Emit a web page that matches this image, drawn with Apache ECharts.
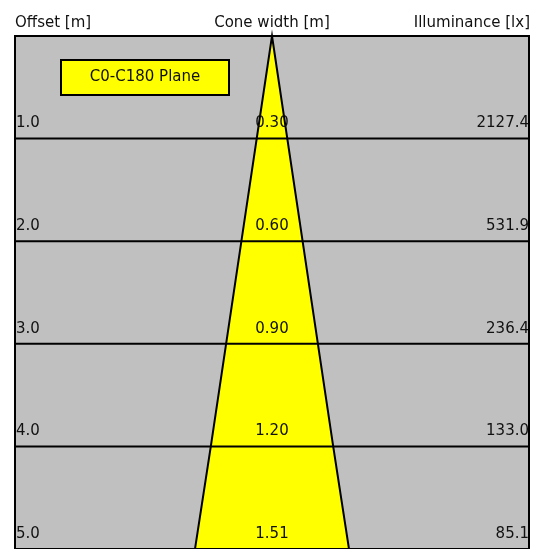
<!DOCTYPE html>
<html>
<head>
<meta charset="utf-8">
<script src="https://cdn.jsdelivr.net/npm/echarts@6/dist/echarts.min.js"></script>
<style>
  html, body { margin: 0; padding: 0; background: #fff; }
  #chart { width: 535px; height: 549px; }
</style>
</head>
<body>
<div id="chart"></div>
<script>
// values
const offsets = [1.0, 2.0, 3.0, 4.0, 5.0];          // m
const coneWidths = [0.30, 0.60, 0.90, 1.20, 1.51];   // m
const illuminance = [2127.4, 531.9, 236.4, 133.0, 85.1]; // lx
const planeName = "C0-C180 Plane";
const headers = ["Offset [m]", "Cone width [m]", "Illuminance [lx]"];

const FONT = "DejaVu Sans";
const chart = echarts.init(document.getElementById("chart"));

const rows = offsets.map((o, i) => [o, coneWidths[i], illuminance[i]]);

function renderCone(params, api) {
  const apex = api.coord([0, 0]);
  const right = offsets.map((o, i) => api.coord([coneWidths[i] / 2, o]));
  const left = offsets.map((o, i) => api.coord([-coneWidths[i] / 2, o])).reverse();
  return {
    type: "polygon",
    shape: { points: [apex].concat(right, left) },
    style: { fill: "#ffff00", stroke: "#000", lineWidth: 2 }
  };
}

function renderRow(params, api) {
  const cs = params.coordSys;
  const y = api.coord([0, api.value(0)])[1];
  const cx = api.coord([0, 0])[0];
  const font = "15px '" + FONT + "'";
  return {
    type: "group",
    children: [
      { type: "line", shape: { x1: cs.x, y1: y, x2: cs.x + cs.width, y2: y },
        style: { stroke: "#000", lineWidth: 2 } },
      { type: "text", x: cs.x + 1, y: y - 15,
        style: { text: api.value(0).toFixed(1), font: font, fill: "#111", align: "left", verticalAlign: "middle" } },
      { type: "text", x: cx, y: y - 15,
        style: { text: api.value(1).toFixed(2), font: font, fill: "#111", align: "center", verticalAlign: "middle" } },
      { type: "text", x: cs.x + cs.width, y: y - 15,
        style: { text: api.value(2).toFixed(1), font: font, fill: "#111", align: "right", verticalAlign: "middle" } }
    ]
  };
}

const option = {
  animation: false,
  grid: {
    left: 15, right: 6, top: 36, bottom: -1,
    show: true, backgroundColor: "#c0c0c0", borderColor: "#000", borderWidth: 2
  },
  xAxis: { type: "value", min: -2.52, max: 2.52, show: false },
  yAxis: { type: "value", min: 0, max: 5, inverse: true, show: false },
  graphic: [
    { type: "text", x: 15, y: 23,
      style: { text: headers[0], font: "15px '" + FONT + "'", fill: "#111", align: "left", verticalAlign: "middle" } },
    { type: "text", x: 272, y: 23,
      style: { text: headers[1], font: "15px '" + FONT + "'", fill: "#111", align: "center", verticalAlign: "middle" } },
    { type: "text", x: 530, y: 23,
      style: { text: headers[2], font: "15px '" + FONT + "'", fill: "#111", align: "right", verticalAlign: "middle" } },
    { type: "group", left: 60, top: 59, z: 100, children: [
      { type: "rect", shape: { x: 0, y: 0, width: 168, height: 35 },
        style: { fill: "#ffff00", stroke: "#000", lineWidth: 2 } },
      { type: "text", x: 84, y: 17.5,
        style: { text: planeName, font: "15px '" + FONT + "'", fill: "#111", align: "center", verticalAlign: "middle" } }
    ] }
  ],
  series: [
    { type: "custom", renderItem: renderCone, data: [[0, 0]], z: 1 },
    { type: "custom", renderItem: renderRow, data: rows, z: 2 }
  ]
};
chart.setOption(option);
</script>
</body>
</html>
